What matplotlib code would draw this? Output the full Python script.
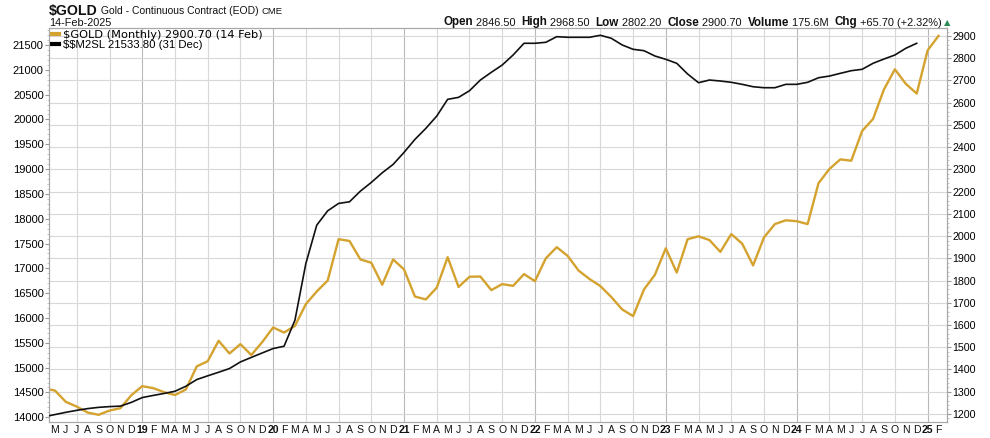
import numpy as np
import pandas as pd
import matplotlib
matplotlib.use('Agg')
import matplotlib.pyplot as plt
from matplotlib.lines import Line2D
from matplotlib.ticker import MultipleLocator

plt.rcParams['font.family'] = ['Liberation Sans', 'DejaVu Sans']
plt.rcParams['text.parse_math'] = False

# miesiace: od kwietnia 2018 (przyciety z lewej) do lutego 2025
months = pd.period_range('2018-04', '2025-02', freq='M')

# $GOLD - zamkniecia miesieczne (prawa os)
gold = [1315, 1305, 1254, 1233, 1206, 1196, 1215, 1226, 1284,
        1325, 1316, 1298, 1285, 1310, 1414, 1437, 1529, 1472, 1514, 1465, 1523,
        1589, 1566, 1596, 1694, 1751, 1800, 1986, 1978, 1895, 1880, 1781, 1895,
        1850, 1728, 1715, 1768, 1905, 1771, 1817, 1818, 1757, 1784, 1776, 1829,
        1797, 1900, 1950, 1911, 1845, 1807, 1775, 1726, 1670, 1640, 1760, 1826,
        1945, 1836, 1986, 1999, 1982, 1929, 2009, 1966, 1868, 1994, 2054, 2071,
        2067, 2054, 2238, 2302, 2345, 2339, 2473, 2527, 2660, 2750, 2685, 2641,
        2835, 2900.7]

# $$M2SL - podaz pieniadza M2 (lewa os), do grudnia 2024
m2sl = [14010, 14055, 14100, 14140, 14175, 14200, 14215, 14225, 14300,
        14397, 14440, 14480, 14524, 14625, 14760, 14835, 14907, 14982, 15115, 15206, 15296,
        15385, 15431, 15956, 17099, 17871, 18159, 18308, 18341, 18556, 18731, 18925, 19094,
        19336, 19598, 19820, 20068, 20405, 20445, 20578, 20794, 20949, 21096, 21298, 21534,
        21534, 21554, 21667, 21655, 21655, 21655, 21695, 21635, 21500, 21413, 21385, 21278,
        21211, 21131, 20915, 20740, 20794, 20774, 20748, 20707, 20659, 20639, 20639, 20707,
        20707, 20748, 20840, 20874, 20929, 20982, 21010, 21131, 21217, 21298, 21433, 21533.8]

left_ticks = list(range(14000, 22000, 500))
right_ticks = list(range(1200, 3000, 100))

header_parts = [('Open', 8.4, 'bold'), (' 2846.50  ', 7.9, 'normal'),
                ('High', 8.4, 'bold'), (' 2968.50  ', 7.9, 'normal'),
                ('Low', 8.4, 'bold'), (' 2802.20  ', 7.9, 'normal'),
                ('Close', 8.4, 'bold'), (' 2900.70  ', 7.9, 'normal'),
                ('Volume', 8.4, 'bold'), (' 175.6M  ', 7.9, 'normal'),
                ('Chg', 8.4, 'bold'), (' +65.70 (+2.32%)', 7.9, 'normal')]
title_parts = [('$GOLD', 10.2, 'bold'), (' Gold - Continuous Contract (EOD) ', 7.5, 'normal'),
               ('CME', 6.8, 'normal')]

GOLD = '#d4a22e'
W, H = 990, 438

fig = plt.figure(figsize=(W / 100, H / 100), dpi=100)
ax = fig.add_axes([49.3 / W, 1 - 421.7 / H, (946.7 - 49.3) / W, (421.7 - 28) / H])
x = np.arange(len(months))

# siatka pionowa co kwartal, lata ciemniejsze
for i, p in enumerate(months):
    if p.month in (1, 4, 7, 10):
        ax.axvline(i, color='#b8b8b8' if p.month == 1 else '#d8d8d8', lw=0.8, zorder=0)

ax.plot(x[:len(gold)], gold, color=GOLD, lw=1.7, zorder=3)
ax2 = ax.twinx()
ax2.plot(x[:len(m2sl)], m2sl, color='#111111', lw=1.2, zorder=3)

ax.set_xlim(0.48, 82.75)
ax.set_ylim(1165, 2936)
ax2.set_ylim(13911, 21842)

ax.yaxis.tick_right()
ax2.yaxis.tick_left()
ax.set_yticks(right_ticks)
ax2.set_yticks(left_ticks)
ax.yaxis.set_minor_locator(MultipleLocator(20))
ax2.yaxis.set_minor_locator(MultipleLocator(100))
ax.grid(axis='y', color='#d8d8d8', lw=0.8)
ax.set_axisbelow(True)

# etykiety miesiecy, styczen = rok pogrubiony
ticks = list(range(1, len(months)))
labels = []
for i in ticks:
    p = months[i]
    labels.append(f'{p.year % 100:02d}' if p.month == 1 else p.strftime('%b')[0])
ax.set_xticks(ticks)
ax.set_xticklabels(labels)
for t, i in zip(ax.get_xticklabels(), ticks):
    if months[i].month == 1:
        t.set_fontweight('bold')
        t.set_fontsize(9)
ax.tick_params(axis='x', length=0, pad=2.5, labelsize=7.6, colors='#111111')
ax.tick_params(axis='y', which='major', length=3, color='#999999', labelsize=7.7, pad=1)
ax.tick_params(axis='y', which='minor', length=1.5, color='#bbbbbb')
ax2.tick_params(axis='y', which='major', length=3, color='#999999', labelsize=8, pad=1)
ax2.tick_params(axis='y', which='minor', length=1.5, color='#bbbbbb')
for a in (ax, ax2):
    for s in a.spines.values():
        s.set_color('#a8a8a8')
        s.set_linewidth(0.8)

leg = ax.legend(handles=[Line2D([], [], color=GOLD, lw=3), Line2D([], [], color='black', lw=3)],
                labels=['$GOLD (Monthly) 2900.70 (14 Feb)', '$$M2SL 21533.80 (31 Dec)'],
                loc='upper left', frameon=False, handlelength=0.7, handletextpad=0.3,
                borderaxespad=0.1, borderpad=0.1, labelspacing=0.0, fontsize=8)
leg.get_texts()[0].set_family('DejaVu Sans')
leg.get_texts()[0].set_fontsize(8.2)
leg.get_texts()[1].set_fontsize(8.2)

# naglowek: tytul i wiersz OHLC
renderer = fig.canvas.get_renderer()

def chain(parts, x0, y0):
    xx = x0
    for s, size, weight in parts:
        t = fig.text(xx / W, 1 - y0 / H, s, fontsize=size, fontweight=weight,
                     va='baseline', ha='left', color='#111111')
        xx = t.get_window_extent(renderer).x1
    return xx

chain(title_parts, 49, 14.5)
fig.text(49 / W, 1 - 26 / H, '14-Feb-2025', fontsize=7.8, va='baseline', color='#111111')
end = chain(header_parts, 443, 25.5)
fig.text((end + 2) / W, 1 - 25 / H, '\u25b2', fontsize=6, color='#2e8b57',
         va='baseline', family='DejaVu Sans')

fig.savefig('out.png', dpi=100)
